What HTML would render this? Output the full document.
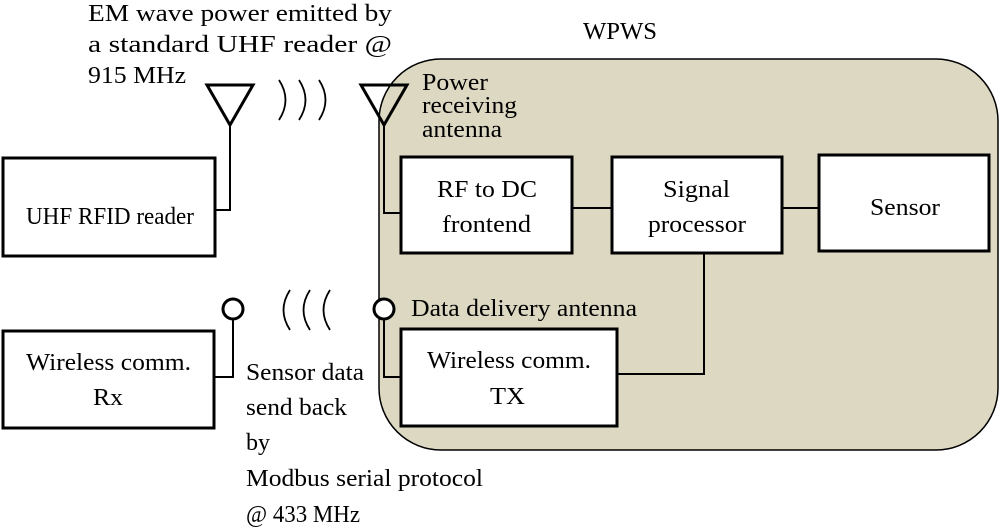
<!DOCTYPE html>
<html><head><style>
html,body{margin:0;padding:0;background:#fff;}
svg{display:block;}
</style></head><body>
<svg width="1000" height="530" viewBox="0 0 1000 530" xmlns="http://www.w3.org/2000/svg">
<rect x="379" y="59" width="619" height="391" rx="62" ry="62" fill="#dcd8c2" stroke="#000" stroke-width="1.5"/>
<g fill="#fff" stroke="#000" stroke-width="3">
<rect x="3" y="158" width="212" height="98"/>
<rect x="3" y="331" width="211" height="97"/>
<rect x="401" y="157" width="171" height="96"/>
<rect x="612" y="157" width="170" height="96"/>
<rect x="819" y="155" width="170" height="96"/>
<rect x="401" y="329" width="216" height="97"/>
</g>
<g fill="none" stroke="#000" stroke-width="2">
<polyline points="230,125 230,210 215,210"/>
<polyline points="384,125 384,213 401,213"/>
<line x1="572" y1="208" x2="612" y2="208"/>
<line x1="782" y1="208" x2="819" y2="208"/>
<polyline points="704,253 704,374 617,374"/>
<polyline points="233,320 233,377 214,377"/>
<polyline points="384,320 384,377 401,377"/>
</g>
<g fill="none" stroke="#000" stroke-width="3">
<polygon points="207,85 253,85 230,125"/>
<polygon points="361,85 407,85 384,125"/>
<circle cx="233" cy="309" r="10" fill="#fff"/>
<circle cx="384" cy="309" r="10" fill="#fff"/>
</g>
<g fill="none" stroke="#000" stroke-width="1.8">
<path d="M279,80 Q292,100 279,120"/>
<path d="M299,80 Q312,100 299,120"/>
<path d="M319,80 Q332,100 319,120"/>
<path d="M290,290 Q277,310 290,330"/>
<path d="M310,290 Q297,310 310,330"/>
<path d="M330,290 Q317,310 330,330"/>
</g>
<g font-family="Liberation Serif, serif" font-size="24" fill="#000">
<text x="88" y="21" textLength="304" lengthAdjust="spacingAndGlyphs">EM wave power emitted by</text>
<text x="88" y="52" textLength="304" lengthAdjust="spacingAndGlyphs">a standard UHF reader @</text>
<text x="88" y="83" textLength="98" lengthAdjust="spacingAndGlyphs">915 MHz</text>
<text x="583" y="39" textLength="74" lengthAdjust="spacingAndGlyphs">WPWS</text>
<text x="422" y="90" textLength="66" lengthAdjust="spacingAndGlyphs">Power</text>
<text x="422" y="113" textLength="95" lengthAdjust="spacingAndGlyphs">receiving</text>
<text x="422" y="137" textLength="80" lengthAdjust="spacingAndGlyphs">antenna</text>
<text x="26" y="224" textLength="168" lengthAdjust="spacingAndGlyphs">UHF RFID reader</text>
<text x="437" y="197" textLength="100" lengthAdjust="spacingAndGlyphs">RF to DC</text>
<text x="442" y="232" textLength="89" lengthAdjust="spacingAndGlyphs">frontend</text>
<text x="663" y="197" textLength="67" lengthAdjust="spacingAndGlyphs">Signal</text>
<text x="648" y="232" textLength="98" lengthAdjust="spacingAndGlyphs">processor</text>
<text x="870" y="215" textLength="70" lengthAdjust="spacingAndGlyphs">Sensor</text>
<text x="411" y="316" textLength="226" lengthAdjust="spacingAndGlyphs">Data delivery antenna</text>
<text x="427" y="368" textLength="164" lengthAdjust="spacingAndGlyphs">Wireless comm.</text>
<text x="490" y="404" textLength="35" lengthAdjust="spacingAndGlyphs">TX</text>
<text x="26" y="370" textLength="165" lengthAdjust="spacingAndGlyphs">Wireless comm.</text>
<text x="93" y="405" textLength="30" lengthAdjust="spacingAndGlyphs">Rx</text>
<text x="246" y="380" textLength="118" lengthAdjust="spacingAndGlyphs">Sensor data</text>
<text x="246" y="415" textLength="101" lengthAdjust="spacingAndGlyphs">send back</text>
<text x="246" y="450" textLength="24" lengthAdjust="spacingAndGlyphs">by</text>
<text x="246" y="486" textLength="237" lengthAdjust="spacingAndGlyphs">Modbus serial protocol</text>
<text x="246" y="522" textLength="114" lengthAdjust="spacingAndGlyphs">@ 433 MHz</text>
</g>
</svg>
</body></html>
